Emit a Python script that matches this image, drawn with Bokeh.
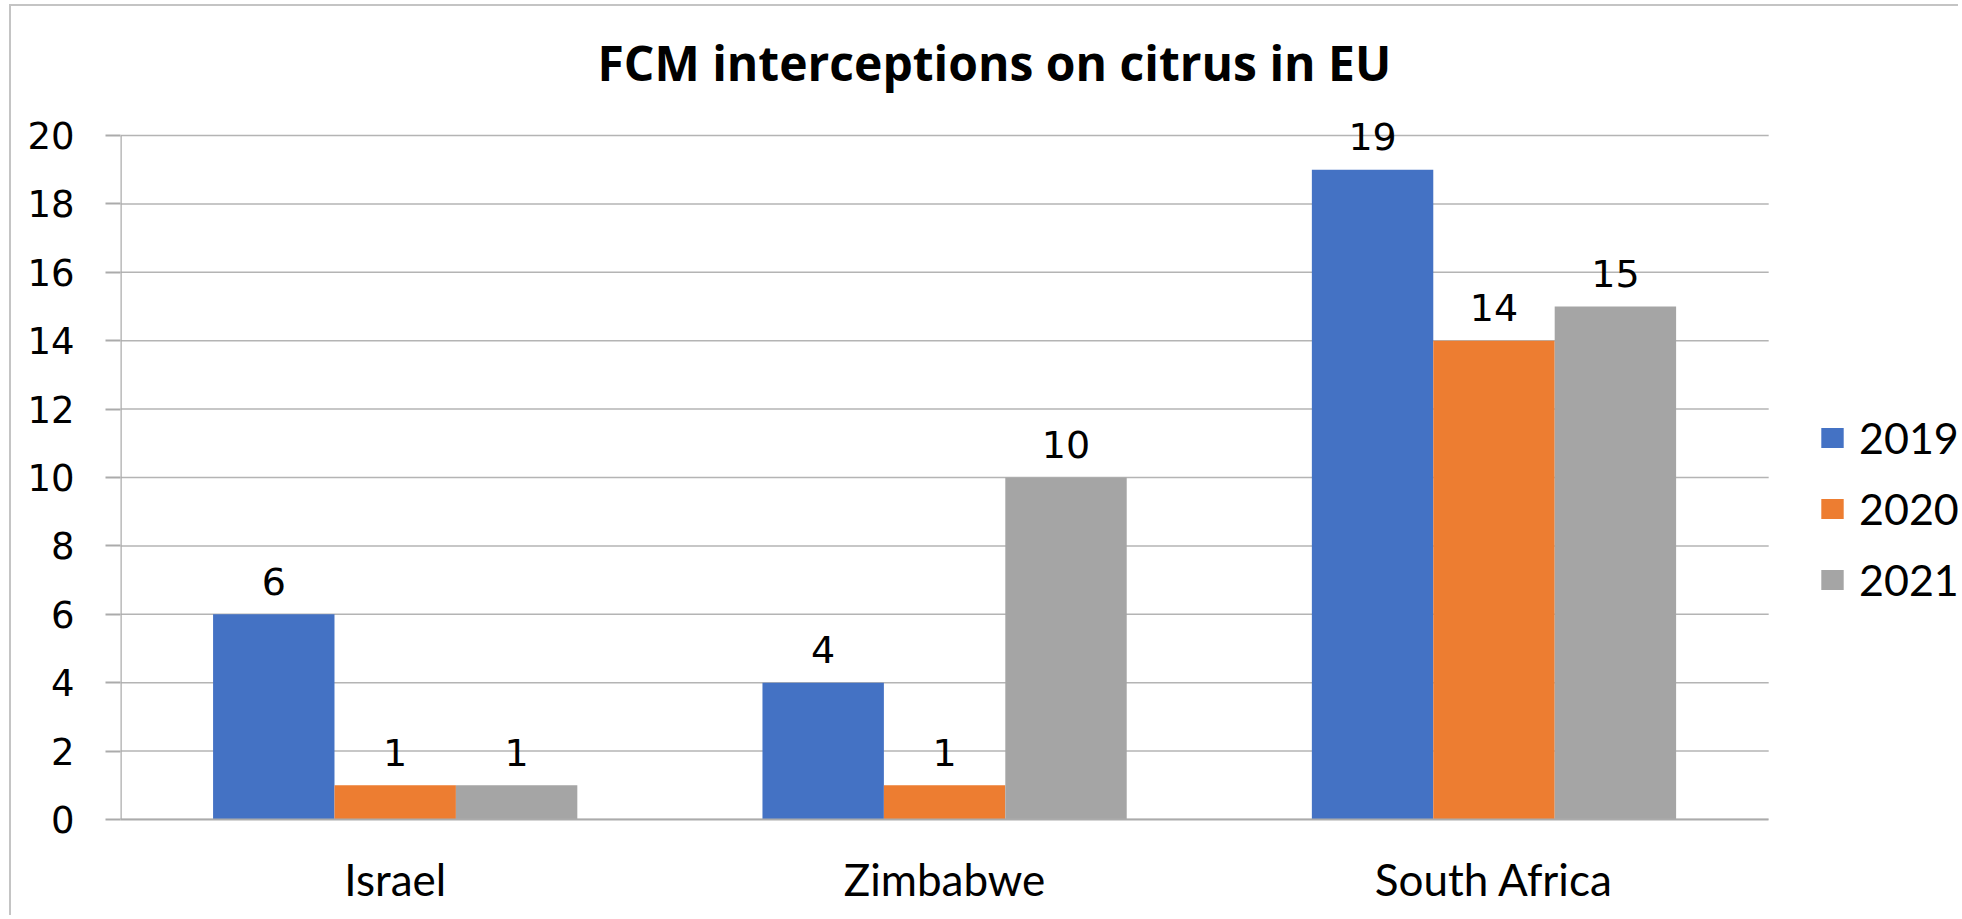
from bokeh.plotting import figure
from bokeh.models import Range1d, FixedTicker, Legend, LegendItem, ColumnDataSource, Title
from bokeh.transform import dodge
from bokeh.core.properties import value
from bokeh.embed import file_html
from bokeh.resources import INLINE

countries = ["Israel", "Zimbabwe", "South Africa"]
years = ["2019", "2020", "2021"]
v2019 = [6, 4, 19]
v2020 = [1, 1, 14]
v2021 = [1, 10, 15]
colors = ["#4472C4", "#ED7D31", "#A5A5A5"]
y_ticks = [0, 2, 4, 6, 8, 10, 12, 14, 16, 18, 20]

ncat = len(countries)
centers = [i + 0.5 for i in range(ncat)]
src = ColumnDataSource(dict(x=centers, y2019=v2019, y2020=v2020, y2021=v2021,
                            t2019=[str(v) for v in v2019],
                            t2020=[str(v) for v in v2020],
                            t2021=[str(v) for v in v2021]))

W, H = 1949, 911
FL, FB = 109, 813
# frame extends to the right edge so the legend can sit inside it
p = figure(width=W, height=H, x_range=Range1d(0, ncat + 0.3455),
           y_range=Range1d(0, 20.79), output_backend="svg", toolbar_location=None,
           min_border_left=FL, min_border_right=2, min_border_top=102,
           min_border_bottom=H - FB)
p.styles = {"border-top": "2px solid #c4c4c4", "border-left": "2px solid #c4c4c4",
            "margin-left": "9px", "margin-top": "4px"}
p.outline_line_color = None
p.background_fill_color = "white"
p.border_fill_color = "white"

title = Title(text="FCM interceptions on citrus in EU", align="left",
              text_font="Open Sans", text_font_size="48px", text_font_style="bold",
              text_color="#000000", offset=477, standoff=28)
p.add_layout(title, "above")

# horizontal gridlines limited to the category area
p.segment(x0=[0] * len(y_ticks), x1=[ncat] * len(y_ticks), y0=y_ticks, y1=y_ticks,
          line_color="#b4b4b4", line_width=1.5)
# vertical axis line from 0 to 20
p.segment(x0=[0], y0=[y_ticks[0]], x1=[0], y1=[y_ticks[-1]], line_color="#ababab", line_width=2.5)

bw = 0.221
dodges = [-bw, 0.0, bw]
fields = ["y2019", "y2020", "y2021"]
tfields = ["t2019", "t2020", "t2021"]
items = []
for i in range(3):
    r = p.vbar(x=dodge("x", dodges[i]), top=fields[i], width=bw,
               source=src, fill_color=colors[i], line_color=None)
    p.text(x=dodge("x", dodges[i]), y=fields[i], text=tfields[i],
           source=src, text_align="center", text_baseline="alphabetic", y_offset=-33,
           text_font=value("DejaVu Sans"), text_font_size="38px", text_color="#000000")
    items.append(LegendItem(label=years[i], renderers=[r]))

# y axis
p.yaxis.ticker = FixedTicker(ticks=y_ticks)
p.yaxis.axis_line_color = None
p.yaxis.major_tick_out = 15
p.yaxis.major_tick_in = 0
p.yaxis.major_tick_line_color = "#ababab"
p.yaxis.major_tick_line_width = 2
p.yaxis.minor_tick_line_color = None
p.yaxis.major_label_standoff = 31
p.yaxis.major_label_text_font = "DejaVu Sans"
p.yaxis.major_label_text_font_size = "37px"
p.yaxis.major_label_text_color = "#000000"
p.grid.grid_line_color = None

# x axis (categories)
p.xaxis.ticker = FixedTicker(ticks=centers)
p.xaxis.major_label_overrides = {c: n for c, n in zip(centers, countries)}
p.xaxis.bounds = (0, ncat)
p.xaxis.axis_line_color = "#ababab"
p.xaxis.axis_line_width = 2
p.xaxis.major_tick_line_color = None
p.xaxis.minor_tick_line_color = None
p.xaxis.major_label_standoff = 27
p.xaxis.major_label_text_font = "Lato"
p.xaxis.major_label_text_font_size = "44px"
p.xaxis.major_label_text_color = "#000000"

legend = Legend(items=items, location=(1698, 204), orientation="vertical",
                glyph_width=28, glyph_height=25, label_height=71, spacing=0,
                label_standoff=13, padding=0, margin=0, border_line_color=None,
                background_fill_alpha=0, label_text_font="Lato",
                label_text_font_size="43px", label_text_color="#000000")
p.add_layout(legend, "center")

open("out.html", "w").write(file_html(p, INLINE))
